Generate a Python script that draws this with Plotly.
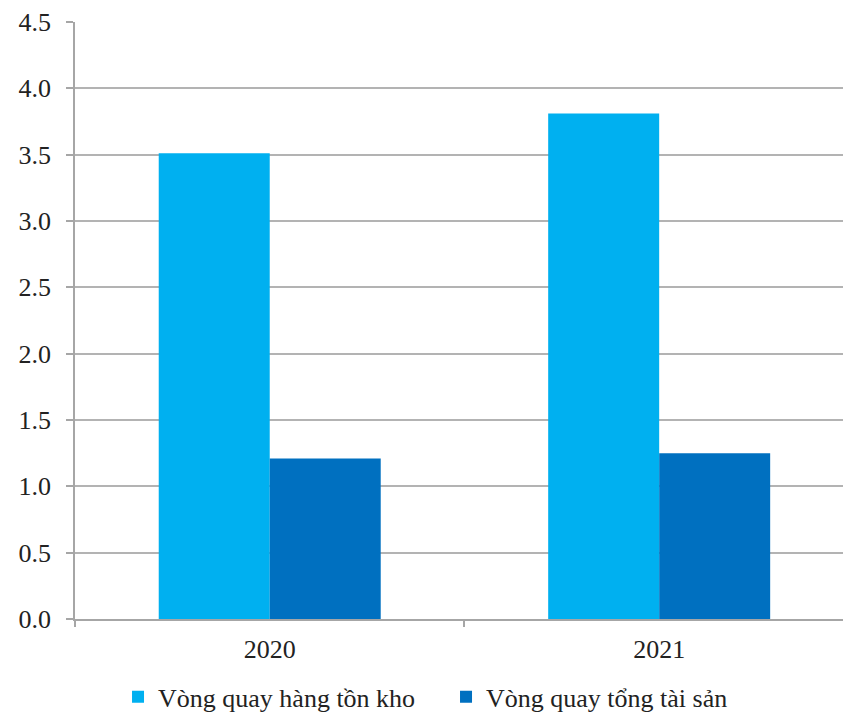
import plotly.graph_objects as go

years = ["2020", "2021"]
inventory_turnover = [3.51, 3.81]
asset_turnover = [1.21, 1.25]
series_names = ["Vòng quay hàng tồn kho", "Vòng quay tổng tài sản"]
y_ticks = [0, 0.5, 1.0, 1.5, 2.0, 2.5, 3.0, 3.5, 4.0, 4.5]

fig = go.Figure()
fig.add_trace(go.Bar(x=years, y=inventory_turnover, name=series_names[0],
                     marker=dict(color="#00b0f0", line=dict(width=0))))
fig.add_trace(go.Bar(x=years, y=asset_turnover, name=series_names[1],
                     marker=dict(color="#0070c0", line=dict(width=0))))

font_family = "Liberation Serif"
fig.update_layout(
    width=843, height=720,
    margin=dict(l=75, r=0, t=22, b=101),
    paper_bgcolor="white", plot_bgcolor="white",
    barmode="group", bargap=0.43, bargroupgap=0,
    font=dict(family=font_family, size=26, color="#222222"),
    showlegend=True,
    legend=dict(orientation="h", xref="container", yref="container",
                x=0.14, xanchor="left", y=0.032, yanchor="middle",
                entrywidth=283, entrywidthmode="pixels",
                font=dict(family=font_family, size=26, color="#222222"),
                itemclick=False, traceorder="normal"),
    xaxis=dict(type="category", range=[-0.5, 1.472],
               showline=True, linecolor="#a6a6a6", linewidth=1.5,
               ticks="outside", tickson="boundaries", ticklen=6,
               tickcolor="#a6a6a6", tickwidth=1.5,
               showgrid=False, ticklabelstandoff=6,
               tickfont=dict(family=font_family, size=26, color="#222222")),
    yaxis=dict(range=[0, 4.5], tickvals=y_ticks, tickformat=".1f",
               showline=True, linecolor="#a6a6a6", linewidth=1.5,
               ticks="outside", ticklen=7, tickcolor="#a6a6a6", tickwidth=1.5,
               showgrid=True, gridcolor="#b3b3b3", gridwidth=1.5,
               zeroline=False, ticklabelstandoff=10,
               tickfont=dict(family=font_family, size=26, color="#222222")),
)

fig.write_html("out.html")
